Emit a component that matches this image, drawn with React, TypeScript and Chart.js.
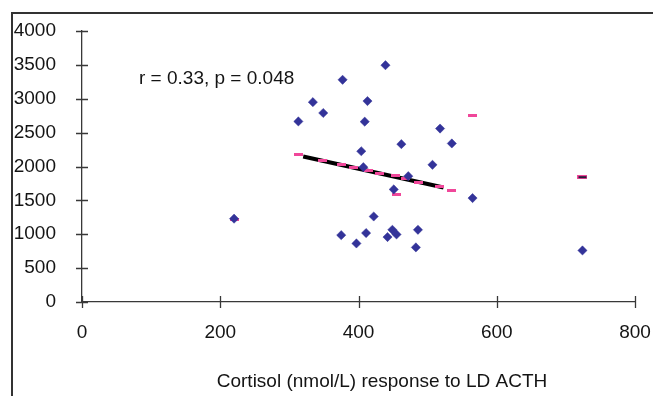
import React, { useEffect, useRef } from "react";
import { Chart, registerables } from "chart.js";

Chart.register(...registerables);

// ---- data ----
const xTickValues = [0, 200, 400, 600, 800];
const yTickValues = [0, 500, 1000, 1500, 2000, 2500, 3000, 3500, 4000];

const cortisolX = [
  220, 313, 334, 349, 377, 439, 413, 409, 518, 462, 535, 404, 407, 507, 472,
  451, 565, 422, 375, 397, 411, 442, 449, 455, 486, 483, 724,
];
const responseY = [
  1230, 2665, 2950, 2790, 3280, 3495, 2966, 2662, 2560, 2330, 2340, 2225, 1990,
  2025, 1857, 1662, 1534, 1262, 987, 864, 1018, 959, 1066, 997, 1066, 806, 761,
];

const fitX = [220, 313, 348, 376, 393, 414, 431, 453, 468, 487, 517, 535, 455, 565, 724];
const fitY = [1222, 2183, 2094, 2035, 1991, 1937, 1903, 1863, 1818, 1764, 1705, 1652, 1587, 2752, 1843];

const trendX = [320, 523];
const trendY = [2147, 1690];

const annotationText = "r = 0.33, p = 0.048";
const xAxisTitle = "Cortisol (nmol/L) response to LD ACTH";

const FONT = "'Liberation Sans', Arial, sans-serif";
const TEXT_COLOR = "#141414";
const AXIS_COLOR = "#383838";
const PINK = "#f0479a";
const NAVY = "#333399";

function makeDash(dark: boolean): HTMLCanvasElement {
  const c = document.createElement("canvas");
  c.width = dark ? 10 : 9;
  c.height = dark ? 4 : 3;
  const ctx = c.getContext("2d")!;
  ctx.fillStyle = PINK;
  ctx.fillRect(0, 0, c.width, c.height);
  if (dark) {
    ctx.fillStyle = "#2a1a3a";
    ctx.fillRect(1, 1, c.width - 2, c.height - 2);
  }
  return c;
}

const crossTicks = {
  id: "crossTicks",
  afterDatasetsDraw(chart: any) {
    const ctx = chart.ctx as CanvasRenderingContext2D;
    const xs = chart.scales.x;
    const ys = chart.scales.y;
    const area = chart.chartArea;
    ctx.save();
    ctx.strokeStyle = AXIS_COLOR;
    ctx.lineWidth = 1.3;
    ctx.beginPath();
    xTickValues.forEach((v) => {
      const px = Math.round(xs.getPixelForValue(v)) + 0.5;
      ctx.moveTo(px, area.bottom - 6);
      ctx.lineTo(px, area.bottom + 6);
    });
    yTickValues.forEach((v) => {
      const py = Math.round(ys.getPixelForValue(v)) + 0.5;
      ctx.moveTo(area.left - 6, py);
      ctx.lineTo(area.left + 6, py);
    });
    ctx.stroke();

    ctx.fillStyle = TEXT_COLOR;
    ctx.font = `19px ${FONT}`;
    ctx.textBaseline = "middle";
    ctx.textAlign = "left";
    ctx.fillText(annotationText, 139, 79);
    ctx.textAlign = "center";
    ctx.fillText(xAxisTitle, 382, 382);
    ctx.restore();
  },
};

export default function App() {
  const ref = useRef<HTMLCanvasElement | null>(null);

  useEffect(() => {
    if (!ref.current) return;
    const pinkDash = makeDash(false);
    const darkDash = makeDash(true);

    const chart = new Chart(ref.current, {
      type: "scatter",
      data: {
        datasets: [
          {
            label: "Response",
            data: cortisolX.map((x, i) => ({ x, y: responseY[i] })),
            pointStyle: "rectRot",
            pointRadius: 4.6,
            pointBackgroundColor: NAVY,
            pointBorderColor: NAVY,
            pointBorderWidth: 0.5,
          },
          {
            label: "Fitted",
            data: fitX.map((x, i) => ({ x, y: fitY[i] })),
            pointStyle: (c: any) => (c.dataIndex === fitX.length - 1 ? darkDash : pinkDash),
            pointRadius: 4,
          },
          {
            label: "Trend",
            data: trendX.map((x, i) => ({ x, y: trendY[i] })),
            showLine: true,
            borderColor: "#000000",
            borderWidth: 4,
            pointRadius: 0,
          },
        ],
      },
      options: {
        animation: false,
        responsive: false,
        maintainAspectRatio: false,
        events: [],
        layout: { padding: { top: 31, right: 18, left: 0, bottom: 0 } },
        plugins: {
          legend: { display: false },
          tooltip: { enabled: false },
        },
        scales: {
          x: {
            type: "linear",
            min: 0,
            max: 800,
            afterBuildTicks: (s: any) => {
              s.ticks = xTickValues.map((v) => ({ value: v }));
            },
            afterFit: (s: any) => {
              s.height = 94;
              s.paddingLeft = 0;
              s.paddingRight = 0;
            },
            ticks: {
              font: { family: FONT, size: 19 },
              color: TEXT_COLOR,
              padding: 11,
              maxRotation: 0,
              callback: (v: any) => String(v),
            },
            grid: { display: false },
            border: { display: true, color: AXIS_COLOR, width: 1.3 },
          },
          y: {
            type: "linear",
            min: 0,
            max: 4000,
            afterBuildTicks: (s: any) => {
              s.ticks = yTickValues.map((v) => ({ value: v }));
            },
            afterFit: (s: any) => {
              s.width = 82;
              s.paddingTop = 0;
              s.paddingBottom = 0;
            },
            ticks: {
              font: { family: FONT, size: 19 },
              color: TEXT_COLOR,
              padding: 18,
              callback: (v: any) => String(v),
            },
            grid: { display: false },
            border: { display: true, color: AXIS_COLOR, width: 1.3 },
          },
        },
      },
      plugins: [crossTicks],
    });
    return () => chart.destroy();
  }, []);

  return (
    <div style={{ position: "absolute", left: 0, top: 0, width: 653, height: 396, background: "#fff", overflow: "hidden" }}>
      <div
        style={{
          position: "absolute",
          left: 11,
          top: 12,
          width: 700,
          height: 400,
          borderLeft: "2px solid #333",
          borderTop: "2px solid #333",
        }}
      />
      <canvas ref={ref} width={653} height={396} style={{ position: "absolute", left: 0, top: 0, width: 653, height: 396 }} />
    </div>
  );
}
